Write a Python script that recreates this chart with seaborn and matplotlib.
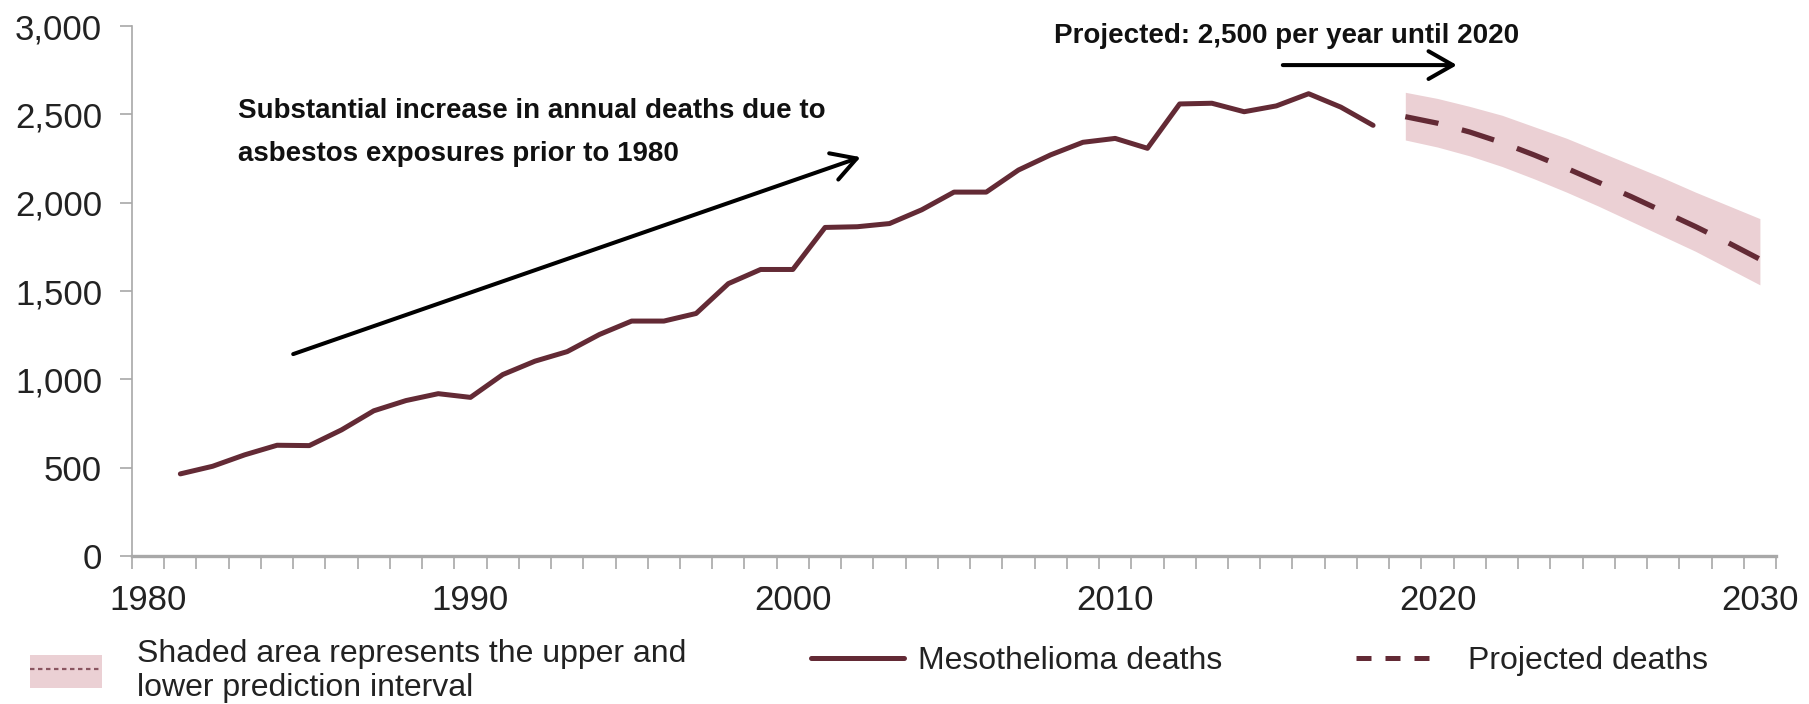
"""
Mesothelioma deaths with projection to 2030.
"""

import matplotlib

matplotlib.use("Agg")
import matplotlib.pyplot as plt
import seaborn as sns
from matplotlib.lines import Line2D
from matplotlib.patches import Patch
from matplotlib.ticker import FixedLocator, FuncFormatter

# Observed annual deaths
years = list(range(1981, 2019))
deaths = [
    465, 508, 573, 627, 625, 714, 822, 880, 919, 898,
    1027, 1103, 1157, 1254, 1330, 1330, 1373, 1542, 1622, 1622,
    1860, 1864, 1882, 1960, 2060, 2060, 2185, 2271, 2342, 2364,
    2308, 2559, 2563, 2515, 2548, 2617, 2541, 2438,
]

# Projection with prediction interval
proj_years = list(range(2019, 2031))
proj = [2487, 2450, 2400, 2340, 2270, 2195, 2115, 2035, 1950, 1865, 1775, 1680]
proj_upper = [2625, 2590, 2545, 2495, 2430, 2365, 2290, 2215, 2140, 2060, 1985, 1910]
proj_lower = [2355, 2315, 2265, 2205, 2135, 2060, 1980, 1895, 1810, 1725, 1630, 1535]

decade_ticks = [1980, 1990, 2000, 2010, 2020, 2030]
y_ticks = [0, 500, 1000, 1500, 2000, 2500, 3000]

LINE_COLOR = "#632a35"
BAND_COLOR = "#ebd0d4"
AXIS_GRAY = "#a8a8a8"
TEXT_COLOR = "#222222"

sns.set_style("white")
plt.rcParams["font.family"] = ["Liberation Sans", "DejaVu Sans"]

fig = plt.figure(figsize=(18.09, 7.04), dpi=100)
ax = fig.add_axes([0.07297, 0.2102, 0.9088, 0.7528])

# Prediction interval band
ax.fill_between(proj_years, proj_lower, proj_upper, color=BAND_COLOR, lw=0, zorder=1)

# Observed and projected lines
sns.lineplot(x=years, y=deaths, ax=ax, color=LINE_COLOR, lw=3.6, errorbar=None, zorder=3)
sns.lineplot(
    x=proj_years, y=proj, ax=ax, color=LINE_COLOR, lw=3.8,
    linestyle=(0, (6.4, 4.6)), errorbar=None, zorder=3,
)

ax.set_xlim(1979.5, 2030.5)
ax.set_ylim(0, 3000)

# Category-style x axis: labels at decades, ticks at year boundaries
ax.xaxis.set_major_locator(FixedLocator(decade_ticks))
ax.xaxis.set_minor_locator(FixedLocator([y + 0.5 for y in range(1979, 2031)]))
ax.tick_params(axis="x", which="major", length=0, pad=20, labelsize=25,
               labelcolor=TEXT_COLOR, bottom=True)
ax.tick_params(axis="x", which="minor", length=9.5, width=1.2, color=AXIS_GRAY,
               direction="out", bottom=True)

ax.yaxis.set_major_locator(FixedLocator(y_ticks))
ax.yaxis.set_major_formatter(FuncFormatter(lambda v, _: f"{int(v):,}"))
ax.tick_params(axis="y", length=8.6, width=1.2, color=AXIS_GRAY, pad=13, labelsize=25,
               labelcolor=TEXT_COLOR, left=True, direction="out")

for side in ["top", "right"]:
    ax.spines[side].set_visible(False)
ax.spines["left"].set_color(AXIS_GRAY)
ax.spines["left"].set_linewidth(1.2)
ax.spines["bottom"].set_color(AXIS_GRAY)
ax.spines["bottom"].set_linewidth(2.4)

# Annotations
arrow_kw = dict(arrowstyle="->,head_length=0.7,head_width=0.4", lw=2.9,
                color="black", mutation_scale=25, shrinkA=0, shrinkB=0)
ax.text(
    1982.8, 2395,
    "Substantial increase in annual deaths due to\nasbestos exposures prior to 1980",
    fontsize=20, fontweight="bold", color="#111111", ha="left", va="center", linespacing=1.85,
)
ax.annotate("", xy=(2002.1, 2258), xytext=(1984.5, 1143), arrowprops=arrow_kw)
ax.text(
    2008.1, 2943, "Projected: 2,500 per year until 2020",
    fontsize=20, fontweight="bold", color="#111111", ha="left", va="center",
)
ax.annotate("", xy=(2020.6, 2779), xytext=(2015.2, 2779), arrowprops=arrow_kw)

# Legend entries, placed separately like the original
band_handle = (
    Patch(facecolor=BAND_COLOR, edgecolor="none"),
    Line2D([], [], color="#8a5560", lw=1.6, linestyle=(0, (2.0, 1.6))),
)
legend_kw = dict(frameon=False, fontsize=23, borderpad=0, borderaxespad=0,
                 labelcolor=TEXT_COLOR, loc="center left")

leg1 = fig.legend(
    [band_handle], ["Shaded area represents the upper and\nlower prediction interval"],
    bbox_to_anchor=(0.0166, 0.047), handlelength=2.25, handleheight=1.2,
    handletextpad=1.1, **legend_kw,
)
leg2 = fig.legend(
    [Line2D([], [], color=LINE_COLOR, lw=3.6)], ["Mesothelioma deaths"],
    bbox_to_anchor=(0.4483, 0.061), handlelength=2.9, handletextpad=0.45, **legend_kw,
)
leg3 = fig.legend(
    [Line2D([], [], color=LINE_COLOR, lw=3.6, linestyle=(0, (3.0, 2.8)))], ["Projected deaths"],
    bbox_to_anchor=(0.7496, 0.061), handlelength=2.5, handletextpad=1.0, **legend_kw,
)

fig.savefig("out.png", dpi=100)
